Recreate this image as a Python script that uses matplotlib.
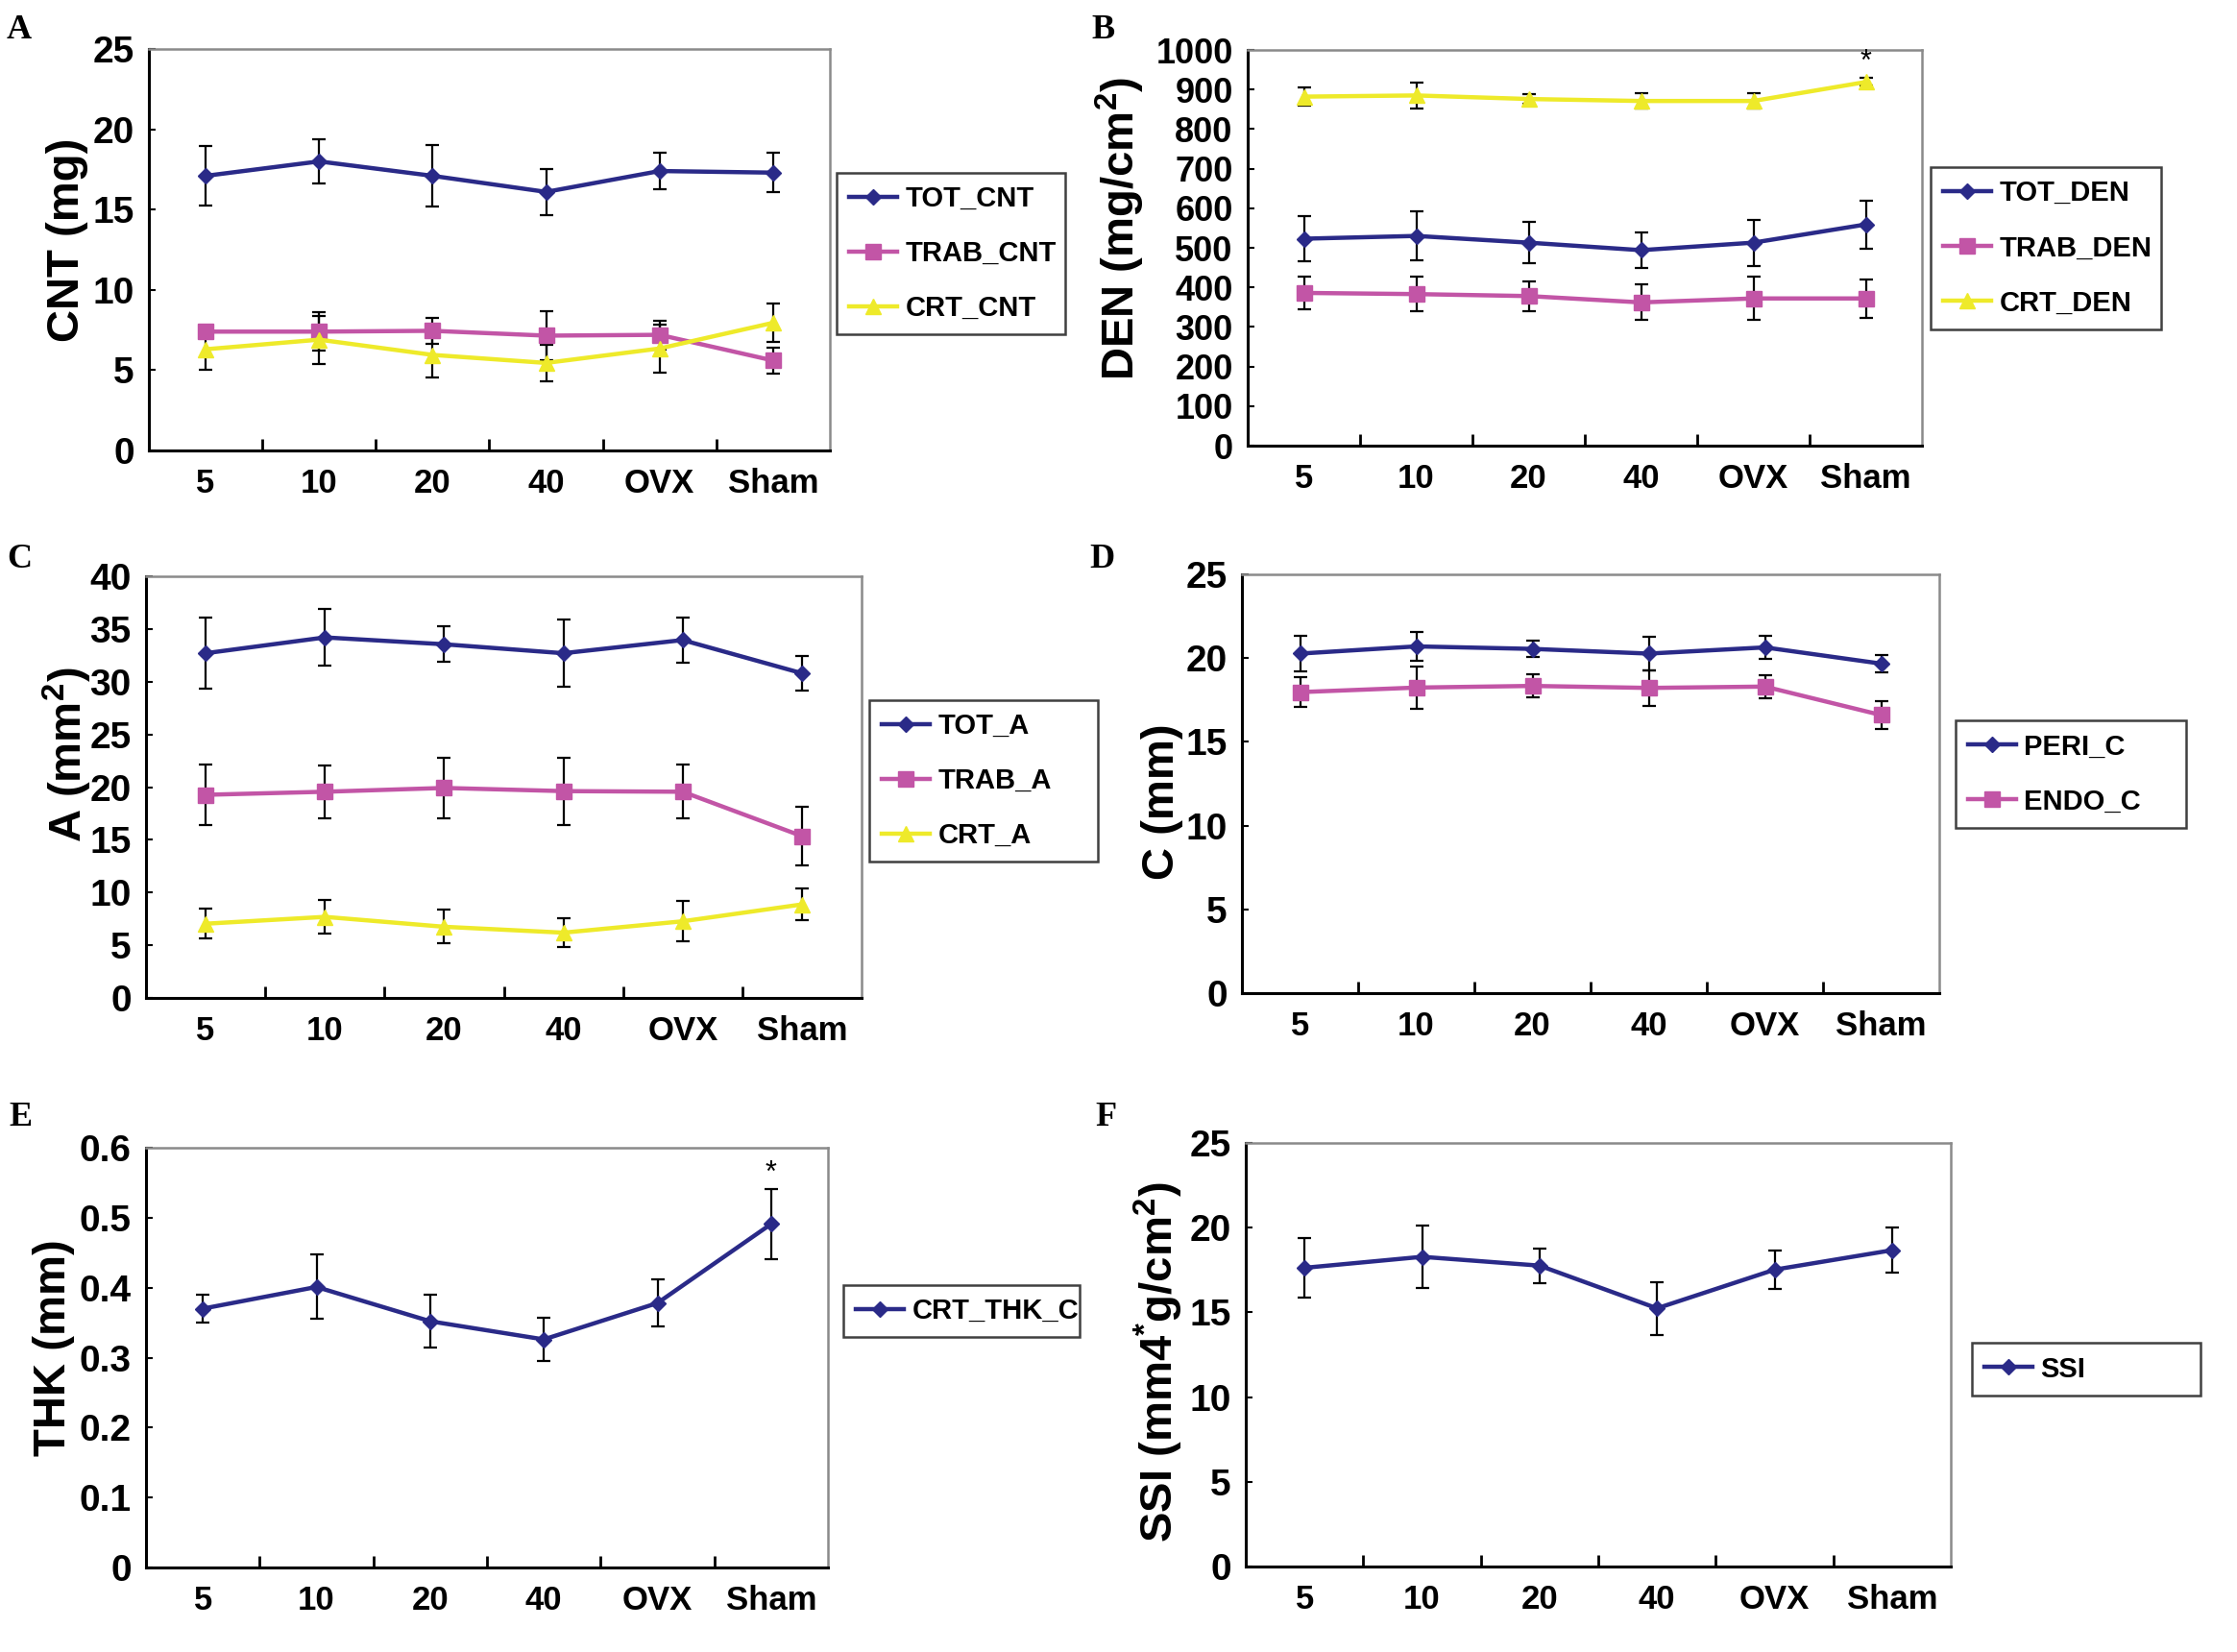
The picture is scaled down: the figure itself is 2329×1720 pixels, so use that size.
import numpy as np
import matplotlib
matplotlib.use("Agg")
import matplotlib.pyplot as plt

plt.rcParams['font.family'] = ['Liberation Sans', 'DejaVu Sans']
plt.rcParams['font.weight'] = 'bold'
plt.rcParams['mathtext.fontset'] = 'custom'
plt.rcParams['mathtext.rm'] = 'Liberation Sans:bold'
plt.rcParams['mathtext.it'] = 'Liberation Sans:bold'
plt.rcParams['mathtext.bf'] = 'Liberation Sans:bold'

groups = ['5', '10', '20', '40', 'OVX', 'Sham']

# panel A - content
tot_cnt = [17.1, 18.0, 17.1, 16.1, 17.4, 17.3]
tot_cnt_err = [1.85, 1.4, 1.9, 1.43, 1.13, 1.23]
trab_cnt = [7.4, 7.4, 7.45, 7.15, 7.2, 5.6]
trab_cnt_err = [0.2, 1.2, 0.8, 1.5, 0.9, 0.8]
crt_cnt = [6.3, 6.9, 5.95, 5.45, 6.35, 7.95]
crt_cnt_err = [1.3, 1.5, 1.4, 1.15, 1.5, 1.2]

# panel B - density
tot_den = [523, 530, 513, 494, 513, 559]
tot_den_err = [56, 62, 52, 45, 58, 61]
trab_den = [386, 383, 378, 362, 372, 372]
trab_den_err = [41, 44, 37, 45, 55, 48]
crt_den = [882, 885, 876, 871, 871, 919]
crt_den_err = [23, 33, 13, 20, 20, 10]

# panel C - area
tot_a = [32.7, 34.2, 33.55, 32.7, 33.95, 30.8]
tot_a_err = [3.4, 2.67, 1.67, 3.2, 2.15, 1.6]
trab_a = [19.27, 19.56, 19.92, 19.62, 19.56, 15.35]
trab_a_err = [2.85, 2.5, 2.9, 3.2, 2.55, 2.8]
crt_a = [7.04, 7.69, 6.75, 6.19, 7.27, 8.87]
crt_a_err = [1.4, 1.6, 1.6, 1.4, 1.9, 1.5]

# panel D - circumference
peri_c = [20.27, 20.7, 20.55, 20.27, 20.64, 19.67]
peri_c_err = [1.05, 0.85, 0.5, 1.0, 0.67, 0.5]
endo_c = [17.97, 18.24, 18.34, 18.22, 18.3, 16.6]
endo_c_err = [0.9, 1.25, 0.7, 1.05, 0.68, 0.84]

# panel E - thickness
crt_thk = [0.370, 0.401, 0.352, 0.326, 0.378, 0.491]
crt_thk_err = [0.02, 0.046, 0.038, 0.031, 0.034, 0.05]

# panel F - SSI
ssi = [17.63, 18.28, 17.76, 15.24, 17.52, 18.67]
ssi_err = [1.73, 1.86, 1.02, 1.56, 1.11, 1.34]

NAVY = '#2a2a88'
PINK = '#c255a6'
YELLOW = '#eeea2a'
STYLE = {
    'TOT': (NAVY, 'D', 8),
    'TRAB': (PINK, 's', 11.5),
    'CRT': (YELLOW, '^', 11.5),
}

W, H = 2329, 1720
fig = plt.figure(figsize=(W / 100, H / 100), dpi=100)


def px_axes(l, r, t, b):
    return fig.add_axes([l / W, 1 - b / H, (r - l) / W, (b - t) / H])


def draw_panel(box, series, ylim, yticks, ylabel, label_xy, letter, letter_xy,
               leg_box, ytick_size=28, star=None):
    ax = px_axes(*box)
    x = np.arange(len(groups))
    for name, vals, errs, kind in series:
        ax.errorbar(x, vals, yerr=errs, fmt='none', ecolor='black',
                    elinewidth=1.6, capsize=5, capthick=1.6, zorder=2)
    for name, vals, errs, kind in series:
        c, m, ms = STYLE[kind]
        ax.plot(x, vals, color=c, marker=m, markersize=ms, lw=3.2,
                markeredgecolor=c, label=name, zorder=3)
    if star is not None:
        vals, errs = series[star][1], series[star][2]
        ax.annotate('*', (x[-1], vals[-1] + errs[-1]), xytext=(0, 1),
                    textcoords='offset points', ha='center', va='bottom',
                    fontsize=22, fontweight='normal')
    ax.set_xlim(-0.5, len(groups) - 0.5)
    ax.set_ylim(*ylim)
    ax.set_yticks(yticks)
    ax.set_yticklabels([('%g' % v) for v in yticks], fontsize=ytick_size)
    ax.set_xticks(x)
    ax.set_xticklabels(groups, fontsize=25)
    ax.set_xticks(np.arange(0.5, len(groups) - 1, 1.0), minor=True)
    ax.tick_params(axis='x', which='major', length=0, pad=13)
    ax.tick_params(axis='x', which='minor', direction='in', length=9, width=2)
    ax.tick_params(axis='y', direction='in', length=5, width=1.5, pad=11)
    for s in ['left', 'bottom']:
        ax.spines[s].set_color('black')
        ax.spines[s].set_linewidth(2.2)
    for s in ['top', 'right']:
        ax.spines[s].set_color('#8a8a8a')
        ax.spines[s].set_linewidth(1.8)
    fig.text(label_xy[0] / W, 1 - label_xy[1] / H, ylabel, rotation=90,
             ha='center', va='center', fontsize=34, fontweight='bold')
    fig.text(letter_xy[0] / W, 1 - letter_xy[1] / H, letter, ha='left',
             va='center', fontsize=26, fontweight='bold',
             family='Liberation Serif')
    l, r, t, b = leg_box
    leg = ax.legend(loc='center', bbox_to_anchor=(l / W, 1 - b / H, (r - l) / W, (b - t) / H),
                    bbox_transform=fig.transFigure, mode='expand', fontsize=21,
                    frameon=True, fancybox=False, framealpha=1, borderpad=0.45,
                    labelspacing=1.0, handlelength=1.7, handletextpad=0.3,
                    borderaxespad=0)
    leg.get_frame().set_edgecolor('#404040')
    leg.get_frame().set_linewidth(1.8)
    return ax


draw_panel((155, 864, 51, 469),
           [('TOT_CNT', tot_cnt, tot_cnt_err, 'TOT'),
            ('TRAB_CNT', trab_cnt, trab_cnt_err, 'TRAB'),
            ('CRT_CNT', crt_cnt, crt_cnt_err, 'CRT')],
           (0, 25), [0, 5, 10, 15, 20, 25], 'CNT (mg)', (70, 250),
           'A', (7, 31), (871, 1109, 171, 357))

draw_panel((1299, 2001, 52, 464),
           [('TOT_DEN', tot_den, tot_den_err, 'TOT'),
            ('TRAB_DEN', trab_den, trab_den_err, 'TRAB'),
            ('CRT_DEN', crt_den, crt_den_err, 'CRT')],
           (0, 1000), list(range(0, 1001, 100)), 'DEN (mg/cm$^{2}$)', (1166, 238),
           'B', (1136, 31), (2010, 2250, 165, 352), ytick_size=26, star=2)

draw_panel((152, 897, 600, 1039),
           [('TOT_A', tot_a, tot_a_err, 'TOT'),
            ('TRAB_A', trab_a, trab_a_err, 'TRAB'),
            ('CRT_A', crt_a, crt_a_err, 'CRT')],
           (0, 40), list(range(0, 41, 5)), 'A (mm$^{2}$)', (70, 786),
           'C', (7, 582), (905, 1143, 720, 906))

draw_panel((1293, 2019, 598, 1034),
           [('PERI_C', peri_c, peri_c_err, 'TOT'),
            ('ENDO_C', endo_c, endo_c_err, 'TRAB')],
           (0, 25), [0, 5, 10, 15, 20, 25], 'C (mm)', (1210, 835),
           'D', (1134, 582), (2036, 2276, 741, 871))

draw_panel((152, 862, 1195, 1632),
           [('CRT_THK_C', crt_thk, crt_thk_err, 'TOT')],
           (0, 0.6), [0, 0.1, 0.2, 0.3, 0.4, 0.5, 0.6], 'THK (mm)', (56, 1403),
           'E', (9, 1163), (878, 1124, 1335, 1395), star=0)

draw_panel((1297, 2031, 1190, 1631),
           [('SSI', ssi, ssi_err, 'TOT')],
           (0, 25), [0, 5, 10, 15, 20, 25], 'SSI (mm4$^{*}$g/cm$^{2}$)', (1206, 1418),
           'F', (1140, 1163), (2053, 2291, 1392, 1459))

fig.savefig('out.png', dpi=100, facecolor='white')
